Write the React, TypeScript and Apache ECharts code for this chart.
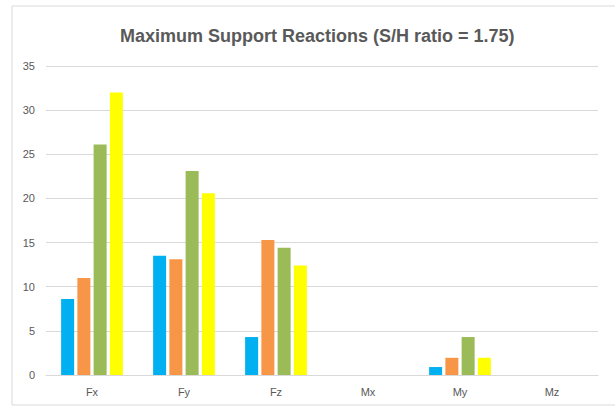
import React, { useEffect, useRef } from "react";
import * as echarts from "echarts";

const categories = ["Fx", "Fy", "Fz", "Mx", "My", "Mz"];
const seriesA = [8.6, 13.5, 4.3, 0, 0.9, 0];
const seriesB = [11.0, 13.1, 15.3, 0, 1.95, 0];
const seriesC = [26.1, 23.1, 14.4, 0, 4.3, 0];
const seriesD = [32.0, 20.6, 12.4, 0, 1.95, 0];
const colors = ["#00B0F0", "#F79646", "#9BBB59", "#FFFF00"];
const yTicks = { min: 0, max: 35, interval: 5 };

export default function App() {
  const ref = useRef<HTMLDivElement>(null);
  useEffect(() => {
    if (!ref.current) return;
    const chart = echarts.init(ref.current, null, { renderer: "svg" });
    const mk = (name: string, data: number[], i: number) => ({
      name,
      type: "bar",
      data,
      barWidth: 13,
      barGap: "25%",
      itemStyle: { color: colors[i] },
    });
    chart.setOption({
      animation: false,
      backgroundColor: "#ffffff",
      title: {
        text: "Maximum Support Reactions (S/H ratio = 1.75)",
        left: 115,
        top: 22,
        textStyle: {
          fontFamily: "Liberation Sans",
          fontSize: 18,
          fontWeight: "bold",
          color: "#595959",
        },
      },
      graphic: [
        {
          type: "rect",
          shape: { x: 12, y: 6, width: 640, height: 399 },
          style: { fill: "none", stroke: "#d9d9d9", lineWidth: 1 },
          silent: true,
        },
      ],
      grid: { left: 46, right: 17, top: 66, bottom: 36 },
      xAxis: {
        type: "category",
        data: categories,
        axisTick: { show: false },
        axisLine: { lineStyle: { color: "#d9d9d9" } },
        axisLabel: {
          color: "#595959",
          fontSize: 11,
          fontFamily: "Liberation Sans",
          margin: 11,
        },
      },
      yAxis: {
        type: "value",
        min: yTicks.min,
        max: yTicks.max,
        interval: yTicks.interval,
        axisLine: { show: false },
        axisTick: { show: false },
        splitLine: { lineStyle: { color: "#d9d9d9" } },
        axisLabel: {
          color: "#595959",
          fontSize: 11,
          fontFamily: "Liberation Sans",
          margin: 11,
        },
      },
      series: [
        mk("Series 1", seriesA, 0),
        mk("Series 2", seriesB, 1),
        mk("Series 3", seriesC, 2),
        mk("Series 4", seriesD, 3),
      ],
    });
    return () => chart.dispose();
  }, []);
  return (
    <div
      ref={ref}
      style={{ position: "fixed", left: 0, top: 0, width: 615, height: 411 }}
    />
  );
}
